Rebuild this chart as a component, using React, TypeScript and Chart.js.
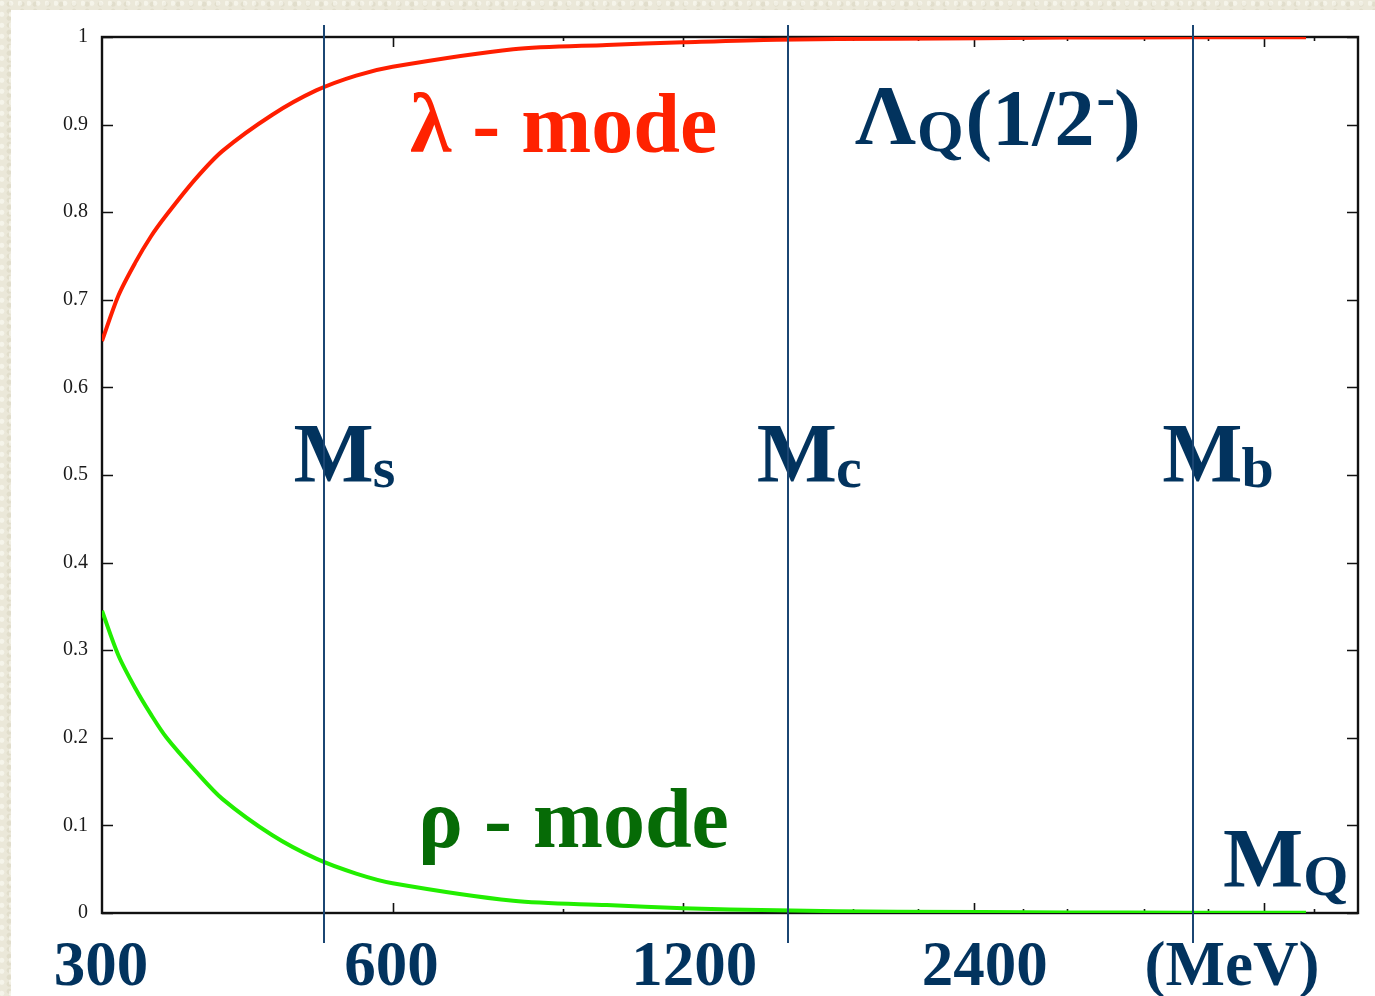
import React, { useEffect, useRef } from "react";
import { Chart, registerables } from "chart.js";

Chart.register(...registerables);

// Heavy-quark mass grid (MeV) and mode fractions of the Λ_Q(1/2⁻) state
const MASS_MEV = [300, 312, 325, 337, 350, 375, 400, 450, 500, 550, 600, 800, 1000, 1200, 1500, 2000, 3000, 4000, 5300];
const LAMBDA_MODE = [0.653, 0.705, 0.743, 0.772, 0.797, 0.838, 0.87, 0.911, 0.939, 0.956, 0.966, 0.986, 0.991, 0.994, 0.997, 0.998, 0.9993, 0.9996, 0.9998];
const RHO_MODE = [0.345, 0.294, 0.256, 0.227, 0.2, 0.162, 0.13, 0.089, 0.062, 0.045, 0.034, 0.014, 0.009, 0.0055, 0.003, 0.0015, 0.0007, 0.0004, 0.0002];

// Axis ticks
const X_LABEL_TICKS = [300, 600, 1200, 2400];
const X_MAJOR_TICKS = [600, 1200, 2400, 4800];
const X_MINOR_TICKS = [900, 1500, 1800, 2100, 2700, 3000, 3600, 4200, 5400];
const Y_TICKS = [0, 0.1, 0.2, 0.3, 0.4, 0.5, 0.6, 0.7, 0.8, 0.9, 1];

// Reference quark masses (MeV) marked with vertical lines
const QUARK_FLAVOURS = ["s", "c", "b"];
const QUARK_MASSES = [510, 1540, 4050];

const NAVY = "#02335e";
const LINE_NAVY = "#1b4673";
const SERIF = '"Liberation Serif", "Times New Roman", Times, serif';

function text(ctx: CanvasRenderingContext2D, s: string, x: number, y: number, size: number, color: string, bold = true) {
  ctx.font = `${bold ? "bold " : ""}${size}px ${SERIF}`;
  ctx.fillStyle = color;
  ctx.fillText(s, x, y);
  return x + ctx.measureText(s).width;
}

const decorPlugin = {
  id: "decor",
  beforeDatasetsDraw(chart: any) {
    const { ctx, chartArea: a, scales } = chart;
    const xs = scales.x;
    const ys = scales.y;
    ctx.save();
    ctx.strokeStyle = "#111111";
    ctx.lineWidth = 2.4;
    ctx.strokeRect(a.left, a.top, a.right - a.left, a.bottom - a.top);
    ctx.lineWidth = 1.6;
    ctx.beginPath();
    for (const v of Y_TICKS) {
      const py = Math.round(ys.getPixelForValue(v)) + 0.5;
      ctx.moveTo(a.left, py);
      ctx.lineTo(a.left + 11, py);
      ctx.moveTo(a.right, py);
      ctx.lineTo(a.right - 11, py);
    }
    const xTick = (v: number, len: number) => {
      const px = Math.round(xs.getPixelForValue(v)) + 0.5;
      ctx.moveTo(px, a.bottom);
      ctx.lineTo(px, a.bottom - len);
      ctx.moveTo(px, a.top);
      ctx.lineTo(px, a.top + len);
    };
    X_MAJOR_TICKS.forEach((v) => xTick(v, 10));
    X_MINOR_TICKS.forEach((v) => xTick(v, 4));
    ctx.stroke();
    ctx.restore();
  },
  afterDatasetsDraw(chart: any) {
    const { ctx, chartArea: a, scales } = chart;
    const xs = scales.x;
    ctx.save();
    ctx.textBaseline = "alphabetic";

    // x-axis labels
    ctx.textAlign = "center";
    X_LABEL_TICKS.forEach((v) => {
      const px = xs.getPixelForValue(v) + (String(v).length > 3 ? 11 : -1);
      text(ctx, String(v), px, 985, 63, NAVY);
    });
    text(ctx, "(MeV)", a.right - 126, 985, 63, NAVY);
    ctx.textAlign = "left";

    // mode labels
    text(ctx, "λ - mode", 410, 152, 84, "#ff2200");
    text(ctx, "ρ - mode", 418, 847, 84, "#066b06");

    // state label
    let cx = text(ctx, "Λ", 855, 144, 85, NAVY);
    cx = text(ctx, "Q", cx + 1, 151, 60, NAVY);
    cx = text(ctx, "(1/2", cx + 2, 145, 80, NAVY);
    cx = text(ctx, "-", cx + 2, 116, 56, NAVY);
    text(ctx, ")", cx - 1, 145, 80, NAVY);

    // M_Q axis label
    cx = text(ctx, "M", 1223, 887, 85, NAVY);
    text(ctx, "Q", cx, 895, 58, NAVY);

    // quark mass labels
    QUARK_MASSES.forEach((m, i) => {
      const px = xs.getPixelForValue(m);
      const end = text(ctx, "M", px - 31, 482, 85, NAVY);
      text(ctx, QUARK_FLAVOURS[i], end - 1, 487, 58, NAVY);
    });

    // quark mass lines, drawn over curves and labels
    ctx.strokeStyle = LINE_NAVY;
    ctx.lineWidth = 2;
    ctx.beginPath();
    QUARK_MASSES.forEach((m) => {
      const px = Math.round(xs.getPixelForValue(m));
      ctx.moveTo(px, a.top - 12);
      ctx.lineTo(px, a.bottom + 30);
    });
    ctx.stroke();
    ctx.restore();
  },
};

export default function App() {
  const canvasRef = useRef<HTMLCanvasElement | null>(null);

  useEffect(() => {
    const canvas = canvasRef.current;
    if (!canvas) return;
    const chart = new Chart(canvas, {
      type: "line",
      data: {
        datasets: [
          {
            label: "λ - mode",
            data: MASS_MEV.map((m, i) => ({ x: m, y: LAMBDA_MODE[i] })),
            borderColor: "#ff1e00",
            borderWidth: 4,
            pointRadius: 0,
            tension: 0.3,
            fill: false,
          },
          {
            label: "ρ - mode",
            data: MASS_MEV.map((m, i) => ({ x: m, y: RHO_MODE[i] })),
            borderColor: "#22ee00",
            borderWidth: 4,
            pointRadius: 0,
            tension: 0.3,
            fill: false,
          },
        ],
      },
      options: {
        animation: false,
        responsive: false,
        layout: { padding: { left: 0, top: 37, right: 17, bottom: 0 } },
        plugins: { legend: { display: false }, tooltip: { enabled: false } },
        scales: {
          x: {
            type: "logarithmic",
            min: 300,
            max: 6000,
            ticks: { display: false },
            grid: { display: false, drawTicks: false },
            border: { display: false },
            afterFit: (s: any) => {
              s.height = 83;
            },
          },
          y: {
            min: 0,
            max: 1,
            afterBuildTicks: (s: any) => {
              s.ticks = Y_TICKS.map((v) => ({ value: v }));
            },
            ticks: {
              font: { family: SERIF, size: 20 },
              color: "#1a1a1a",
              padding: 14,
              callback: (v: any) => String(Number(Number(v).toFixed(1))),
            },
            grid: { display: false, drawTicks: false },
            border: { display: false },
            afterFit: (s: any) => {
              s.width = 102;
            },
          },
        },
      },
      plugins: [decorPlugin],
    });
    return () => chart.destroy();
  }, []);

  return (
    <div
      style={{
        position: "fixed",
        left: 0,
        top: 0,
        width: 1375,
        height: 996,
        overflow: "hidden",
        background: "#ebe8d9",
        backgroundImage:
          "radial-gradient(circle at 20% 30%, rgba(255,255,250,0.5) 0 2px, transparent 3px), radial-gradient(circle at 70% 60%, rgba(215,210,190,0.5) 0 2px, transparent 3px)",
        backgroundSize: "9px 11px, 13px 7px",
      }}
    >
      <div style={{ position: "absolute", left: 11, top: 10, right: 0, bottom: 0, background: "#ffffff" }} />
      <canvas ref={canvasRef} width={1375} height={996} style={{ position: "absolute", left: 0, top: 0 }} />
    </div>
  );
}
